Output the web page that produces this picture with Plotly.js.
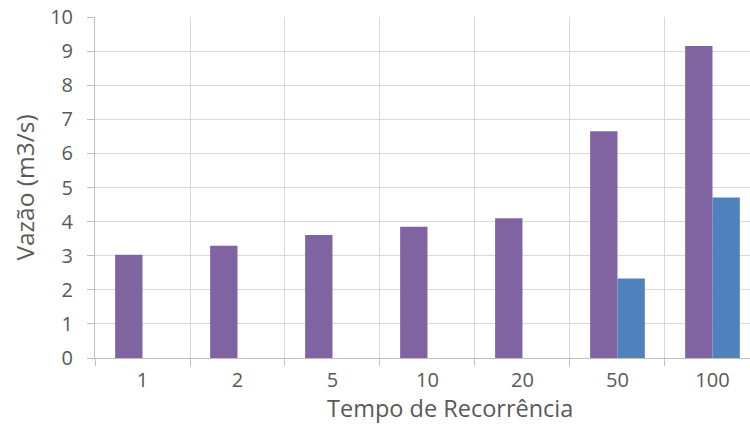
<!DOCTYPE html>
<html>
<head>
<meta charset="utf-8">
<script src="https://cdn.plot.ly/plotly-3.0.1.min.js"></script>
<style>html,body{margin:0;padding:0;background:#fff;}#chart{width:750px;height:424px;}</style>
</head>
<body>
<div id="chart"></div>
<script>
const categories = ["1", "2", "5", "10", "20", "50", "100"];
const seriesA = [3.03, 3.29, 3.61, 3.85, 4.10, 6.65, 9.15];
const seriesB = [0, 0, 0, 0, 0, 2.33, 4.71];
const yTicks = [0, 1, 2, 3, 4, 5, 6, 7, 8, 9, 10];

const fontFam = "'Open Sans', sans-serif";
const traces = [
  {type: "bar", x: categories, y: seriesA, name: "A",
   marker: {color: "#8064A2", line: {width: 0}}},
  {type: "bar", x: categories, y: seriesB, name: "B",
   marker: {color: "#4F81BD", line: {width: 0}}}
];
const layout = {
  width: 750, height: 424,
  margin: {l: 95, r: 0, t: 17, b: 66},
  paper_bgcolor: "#fff", plot_bgcolor: "#fff",
  showlegend: false,
  barmode: "group", bargap: 0.424, bargroupgap: 0,
  font: {family: fontFam, color: "#595959", size: 20},
  xaxis: {
    type: "category", range: [-0.5, 6.395],
    tickson: "boundaries", ticks: "outside", ticklen: 7, tickcolor: "#BFBFBF",
    showgrid: true, gridcolor: "#D9D9D9", gridwidth: 1,
    showline: true, linecolor: "#BFBFBF", linewidth: 1,
    ticklabelstandoff: 4,
    tickfont: {size: 20, color: "#595959"}
  },
  yaxis: {
    range: [0, 10], tickvals: yTicks, ticks: "outside", ticklen: 7, tickcolor: "#BFBFBF",
    showgrid: true, gridcolor: "#D9D9D9", gridwidth: 1,
    showline: true, linecolor: "#BFBFBF", linewidth: 1, zeroline: false,
    ticklabelstandoff: 10,
    tickfont: {size: 20, color: "#595959"},
    title: {text: "Vazão (m3/s)", font: {size: 24.5, color: "#595959"}, standoff: 8}
  },
  annotations: [{
    text: "Tempo de Recorrência", xref: "paper", yref: "paper",
    x: (450 - 95) / 655, y: -(407.5 - 358) / 341, xanchor: "center", yanchor: "middle",
    showarrow: false, font: {size: 23.5, color: "#595959"}
  }]
};
Plotly.newPlot("chart", traces, layout, {staticPlot: true});
</script>
</body>
</html>
